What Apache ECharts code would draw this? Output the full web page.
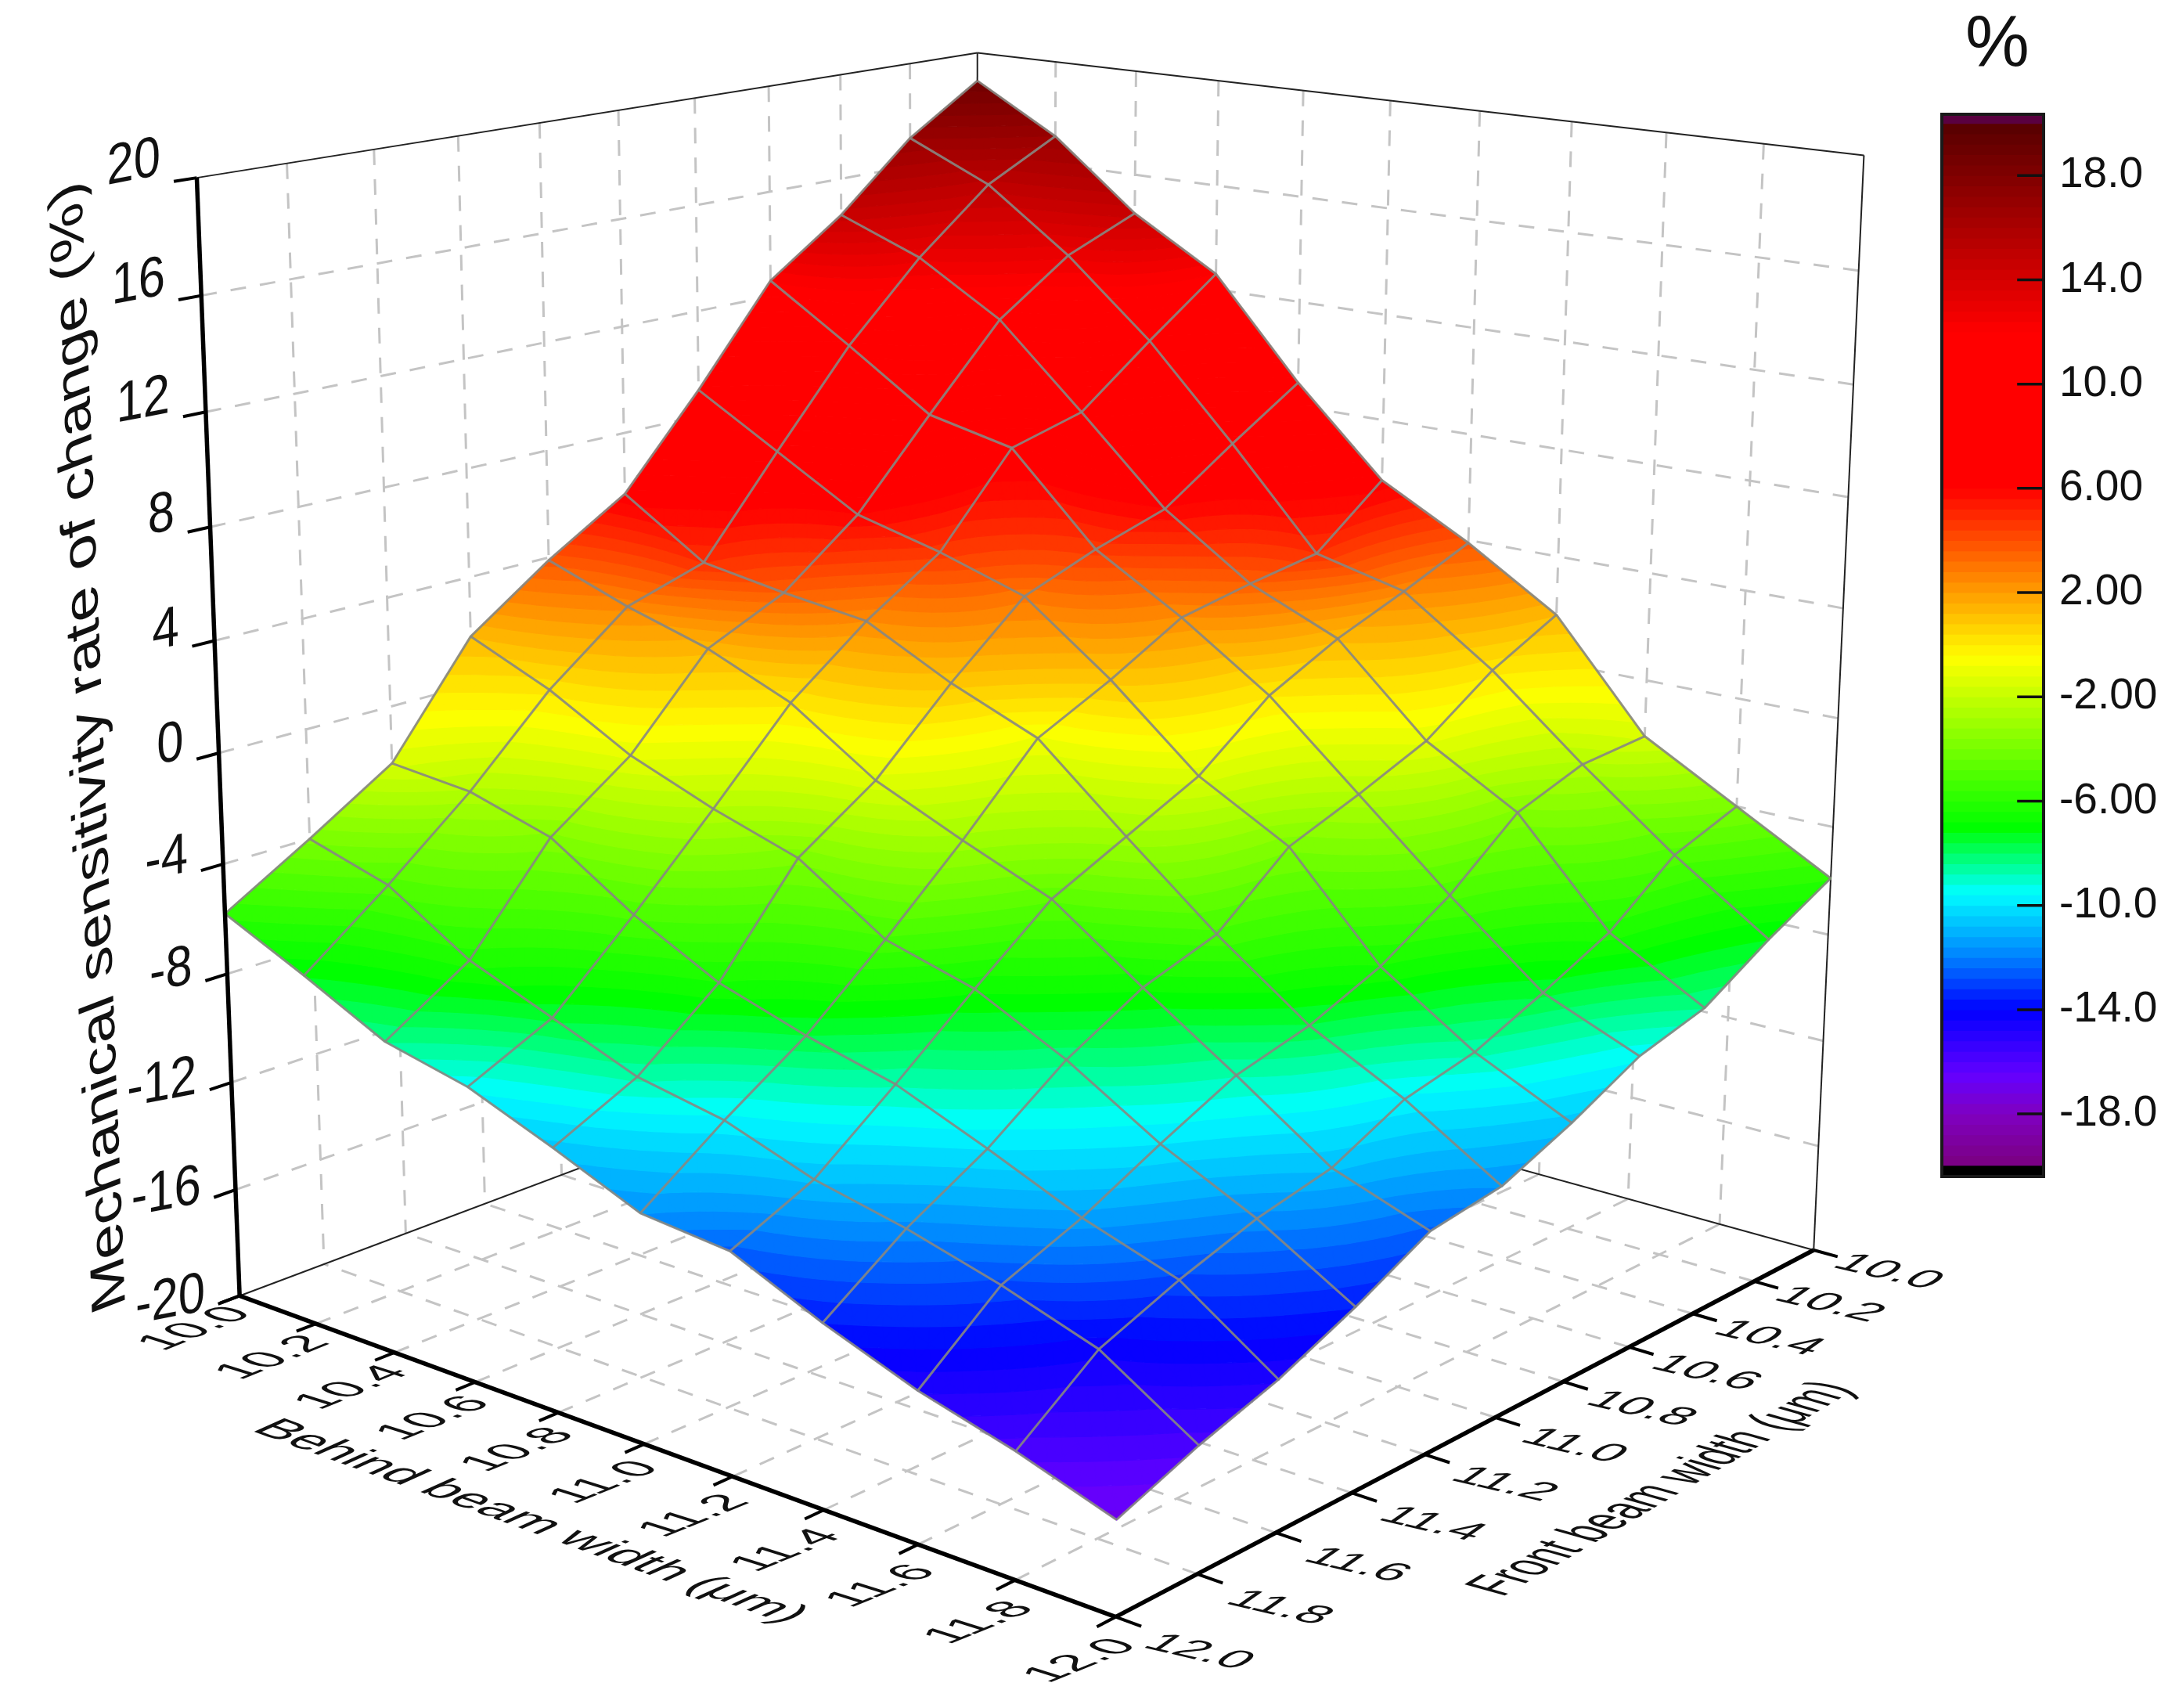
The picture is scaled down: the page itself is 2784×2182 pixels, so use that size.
<!DOCTYPE html>
<html><head><meta charset="utf-8">
<script src="https://cdn.jsdelivr.net/npm/echarts@6/dist/echarts.min.js"></script>
<style>html,body{margin:0;background:#fff}#c{width:2784px;height:2182px}</style></head>
<body><div id="c"></div>
<script>
// ---------- data ----------
const behindTicks = [10.0,10.2,10.4,10.6,10.8,11.0,11.2,11.4,11.6,11.8,12.0];
const frontTicks  = [10.0,10.2,10.4,10.6,10.8,11.0,11.2,11.4,11.6,11.8,12.0];
const zTicks      = [-20,-16,-12,-8,-4,0,4,8,12,16,20];
// rows: behind beam width, columns: front beam width
const rateB100 = [18.9,17.1,14.6,12.6,9.0,5.7,3.9,1.8,-2.1,-4.0,-5.8];
const rateB102 = [17.1,15.7,13.4,10.6,7.2,3.7,2.8,0.5,-2.4,-4.9,-7.2];
const rateB104 = [14.5,13.4,11.5,8.5,5.4,3.2,1.9,-1.2,-3.3,-6.8,-8.7];
const rateB106 = [12.6,10.6,8.5,7.8,4.6,2.8,0.6,-2.4,-5.3,-8.0,-9.4];
const rateB108 = [8.9,7.2,5.4,4.6,3.6,1.2,-1.5,-3.4,-6.9,-9.2,-10.6];
const rateB110 = [5.7,3.6,3.2,2.7,1.2,-0.1,-2.9,-5.5,-7.9,-9.8,-11.9];
const rateB112 = [3.9,2.8,1.8,0.5,-1.6,-2.9,-4.2,-6.4,-8.7,-10.9,-12.2];
const rateB114 = [1.8,0.5,-1.3,-2.4,-3.4,-5.6,-6.5,-8.0,-10.0,-11.6,-13.6];
const rateB116 = [-2.1,-2.3,-3.2,-5.3,-6.9,-8.0,-8.7,-10.0,-11.4,-12.5,-14.8];
const rateB118 = [-4.0,-4.9,-6.8,-8.0,-9.1,-9.7,-11.0,-11.6,-12.5,-13.6,-15.7];
const rateB120 = [-5.9,-7.2,-8.7,-9.4,-10.7,-11.8,-12.2,-13.6,-14.8,-15.7,-16.8];
const rate = [rateB100,rateB102,rateB104,rateB106,rateB108,rateB110,rateB112,rateB114,rateB116,rateB118,rateB120];
const legendTickValues = [18,14,10,6,2,-2,-6,-10,-14,-18];
const legendTickLabels = ['18.0','14.0','10.0','6.00','2.00','-2.00','-6.00','-10.0','-14.0','-18.0'];
const colorStops = [[-20,'#7a0080'],[-18,'#8000c0'],[-16.5,'#6400ff'],[-14,'#0000ff'],[-12,'#0080ff'],[-9.5,'#00ffff'],[-7,'#00ff00'],[-0.5,'#ffff00'],[6,'#ff0000'],[12,'#ff0000'],[20,'#560000']];
const bandStep = 0.4;

// ---------- camera: perspective view of the 3D box ----------
const cam = [787.450,-984.421,-59.203,1247.351, 100.487,119.799,-1237.617,1301.841, -0.121882,-0.141232,-0.048535];
const FONT = 'Liberation Sans';
function project(b,f,z){
  const u=(b-10)/2,v=(f-10)/2,w=(z+20)/40,d=cam[8]*u+cam[9]*v+cam[10]*w+1;
  return [(cam[0]*u+cam[1]*v+cam[2]*w+cam[3])/d,(cam[4]*u+cam[5]*v+cam[6]*w+cam[7])/d];
}
const px=(api,b,f,z)=>api.coord(project(b,f,z));

// ---------- colour ----------
function hex(c){return [1,3,5].map(k=>parseInt(c.substr(k,2),16));}
function colorAt(val){
  if(val<=colorStops[0][0])return colorStops[0][1];
  for(let k=1;k<colorStops.length;k++){
    if(val<=colorStops[k][0]){
      const t=(val-colorStops[k-1][0])/(colorStops[k][0]-colorStops[k-1][0]),a=hex(colorStops[k-1][1]),b=hex(colorStops[k][1]);
      return 'rgb('+a.map((x,n)=>Math.round(x+(b[n]-x)*t)).join(',')+')';
    }
  }
  return colorStops[colorStops.length-1][1];
}
const bandOf=v=>Math.floor((v+20)/bandStep);
const bandColor=k=>colorAt(-20+(k+.5)*bandStep);

// ---------- smoothed colour field derived from the readings ----------
const M=11;
function ext(i,j){
  const ci=Math.max(0,Math.min(M-1,i)),cj=Math.max(0,Math.min(M-1,j));
  const di=ci===0?rate[0][cj]-rate[1][cj]:ci===M-1?rate[M-1][cj]-rate[M-2][cj]:0;
  const dj=cj===0?rate[ci][0]-rate[ci][1]:cj===M-1?rate[ci][M-1]-rate[ci][M-2]:0;
  return rate[ci][cj]+Math.abs(i-ci)*di+Math.abs(j-cj)*dj;
}
const KW=[1,4,6,4,1];
const smooth={};
for(let i=-2;i<=M+1;i++)for(let j=-2;j<=M+1;j++){
  let s=0;for(let a=-2;a<=2;a++)for(let b=-2;b<=2;b++)s+=KW[a+2]*KW[b+2]*ext(i+a,j+b);
  smooth[i+','+j]=s/256;
}
function cr(p0,p1,p2,p3,t){return .5*(2*p1+(p2-p0)*t+(2*p0-5*p1+4*p2-p3)*t*t+(3*p1-p0-3*p2+p3)*t*t*t);}
function field(i,j,s,t){
  const r=[];for(let a=-1;a<=2;a++)r.push(cr(smooth[(i+a)+','+(j-1)],smooth[(i+a)+','+j],smooth[(i+a)+','+(j+1)],smooth[(i+a)+','+(j+2)],t));
  return cr(r[0],r[1],r[2],r[3],s);
}

// ---------- clip a triangle to one colour band ----------
function clipAbove(poly,lim,keepAbove){
  const out=[];
  for(let k=0;k<poly.length;k++){
    const a=poly[k],b=poly[(k+1)%poly.length];
    const ina=keepAbove?a[2]>=lim:a[2]<=lim,inb=keepAbove?b[2]>=lim:b[2]<=lim;
    if(ina)out.push(a);
    if(ina!==inb){const t=(lim-a[2])/(b[2]-a[2]);out.push([a[0]+(b[0]-a[0])*t,a[1]+(b[1]-a[1])*t,lim]);}
  }
  return out;
}
function addTri(paths,a,b,c){
  const mn=Math.min(a[2],b[2],c[2]),mx=Math.max(a[2],b[2],c[2]);
  for(let k=bandOf(mn);k<=bandOf(mx);k++){
    const lo=-20+k*bandStep,hi=lo+bandStep;
    let poly=clipAbove([a,b,c],lo,true);
    if(poly.length)poly=clipAbove(poly,hi,false);
    if(poly.length<3)continue;
    paths[k]=(paths[k]||'')+'M'+poly.map(q=>q[0].toFixed(1)+' '+q[1].toFixed(1)).join('L')+'Z';
  }
}
const SUB=6;
const cells=[];
for(let s=0;s<=18;s++)for(let i=0;i<M-1;i++){const j=s-i;if(j>=0&&j<M-1)cells.push([i,j]);}
function renderCell(params,api){
  const [i,j]=cells[params.dataIndex];
  const z00=rate[i][j],z10=rate[i+1][j],z01=rate[i][j+1],z11=rate[i+1][j+1];
  const g=[];
  for(let a=0;a<=SUB;a++){g.push([]);for(let b=0;b<=SUB;b++){
    const s=a/SUB,t=b/SUB;
    const z=z00*(1-s)*(1-t)+z10*s*(1-t)+z01*(1-s)*t+z11*s*t;
    const q=px(api,behindTicks[i]+.2*s,frontTicks[j]+.2*t,z);
    g[a].push([q[0],q[1],field(i,j,s,t)]);
  }}
  const paths={};
  for(let a=0;a<SUB;a++)for(let b=0;b<SUB;b++){
    addTri(paths,g[a][b],g[a+1][b],g[a+1][b+1]);
    addTri(paths,g[a][b],g[a+1][b+1],g[a][b+1]);
  }
  return {type:'group',children:Object.keys(paths).map(k=>({type:'path',shape:{pathData:paths[k]},style:{fill:bandColor(+k),stroke:bandColor(+k),lineWidth:1.2}}))};
}

// ---------- box, grids, ticks ----------
const B0=10,B1=12,F0=10,F1=12,Z0=-20,Z1=20;
const lineStyles={
  dash:{stroke:'#c4c4c4',lineWidth:3,lineDash:[20,18]},
  thin:{stroke:'#222222',lineWidth:2},
  thick:{stroke:'#000000',lineWidth:5.5},
  tick:{stroke:'#000000',lineWidth:4},
};
const gridSegs=[];
behindTicks.slice(1,-1).forEach(b=>{
  gridSegs.push(['dash',[b,F1,Z0],[b,F0,Z0]]);
  gridSegs.push(['dash',[b,F0,Z1],[b,F0,Z0]]);
});
frontTicks.slice(1,-1).forEach(f=>{
  gridSegs.push(['dash',[B1,f,Z0],[B0,f,Z0]]);
  gridSegs.push(['dash',[B0,f,Z1],[B0,f,Z0]]);
});
zTicks.slice(1,-1).forEach(z=>{
  gridSegs.push(['dash',[B0,F1,z],[B0,F0,z]]);
  gridSegs.push(['dash',[B1,F0,z],[B0,F0,z]]);
});
[[[B0,F1,Z1],[B0,F0,Z1]],[[B0,F0,Z1],[B1,F0,Z1]],[[B0,F0,Z1],[B0,F0,Z0]],[[B1,F0,Z1],[B1,F0,Z0]],[[B0,F1,Z0],[B0,F0,Z0]],[[B0,F0,Z0],[B1,F0,Z0]]]
  .forEach(s=>gridSegs.push(['thin',s[0],s[1]]));
const axisSegs=[['thick',[B0,F1,Z1],[B0,F1,Z0]],['thick',[B0,F1,Z0],[B1,F1,Z0]],['thick',[B1,F1,Z0],[B1,F0,Z0]]];
zTicks.forEach(z=>axisSegs.push(['tick',[B0,F1,z],[B0,F1+.05,z]]));
behindTicks.forEach(b=>axisSegs.push(['tick',[b,F1,Z0],[b,F1+.045,Z0]]));
frontTicks.forEach(f=>axisSegs.push(['tick',[B1,f,Z0],[B1+.05,f,Z0]]));
function renderSegs(list){return (params,api)=>{
  const s=list[params.dataIndex],a=px(api,...s[1]),b=px(api,...s[2]);
  return {type:'line',shape:{x1:a[0],y1:a[1],x2:b[0],y2:b[1]},style:lineStyles[s[0]]};
};}
const meshLines=[];
for(let i=0;i<M;i++)meshLines.push(rate[i].map((z,j)=>[behindTicks[i],frontTicks[j],z]));
for(let j=0;j<M;j++)meshLines.push(rate.map((row,i)=>[behindTicks[i],frontTicks[j],row[j]]));
function renderMesh(params,api){
  return {type:'polyline',shape:{points:meshLines[params.dataIndex].map(p=>px(api,...p))},style:{stroke:'rgba(135,135,130,0.9)',lineWidth:3,fill:null,lineJoin:'round'}};
}

// ---------- text laid in the planes of the box ----------
function warped(text,x,y,U,V,align,vAlign){
  const E=(U[0]+V[1])/2,F=(U[0]-V[1])/2,G=(U[1]+V[0])/2,H=(U[1]-V[0])/2;
  const Q=Math.hypot(E,H),R=Math.hypot(F,G),a1=Math.atan2(G,F),a2=Math.atan2(H,E);
  const theta=(a2-a1)/2,phi=(a2+a1)/2;
  return {type:'group',x,y,rotation:-phi,scaleX:Q+R,scaleY:Q-R,children:[
    {type:'text',rotation:-theta,style:{text,x:0,y:0,fill:'#111111',font:'56px "'+FONT+'"',align,verticalAlign:vAlign}}
  ]};
}
const behindU=[1.08,-.44],behindV=[1.05,.33];
const frontU=[1.15,.27],frontV=[-.72,.5];
const zU=[1.1,-.21],zV=[0,1.3];
const textItems=[];
behindTicks.forEach(b=>textItems.push(api=>{const t=(b-10)/2,q=px(api,b,F1,Z0);
  return warped(b.toFixed(1),q[0]-56+12*t,q[1]+42+14*t,behindU,behindV,'center','middle');}));
frontTicks.forEach(f=>textItems.push(api=>{const t=(f-10)/2,q=px(api,B1,f,Z0);
  return warped(f.toFixed(1),q[0]+95+11*t,q[1]+28+17*t,frontU,frontV,'center','middle');}));
zTicks.forEach(z=>textItems.push(api=>{const w=(z+20)/40,q=px(api,B0,F1+.06,z);
  return warped(String(z),q[0]-11,q[1]-30+16*(1-w),zU,zV,'right','middle');}));
const axisTitles=[
  ['Mechanical sensitivity rate of change (%)',[115,954],[-.055,-1.414],[1.09,-.42]],
  ['Behind beam width (μm)',[677,1944],[1.125,.407],[-1,.45]],
  ['Front beam width (μm)',[2124,1902],[.8,-.47],[1.34,.375]],
];
axisTitles.forEach(t=>textItems.push(api=>{const q=api.coord(t[1]);return warped(t[0],q[0],q[1],t[2],t[3],'center','middle');}));

// ---------- colour bar ----------
const barBands=[];
for(let k=0;k<100;k++)barBands.push([-20+k*bandStep,-20+(k+1)*bandStep,bandColor(k)]);
barBands.push([20,20.35,'#5a0040'],[-20.4,-20,'#000000']);
function renderBar(params,api){
  const s=barBands[params.dataIndex],a=api.coord([0,s[1]]),b=api.coord([1,s[0]]);
  return {type:'rect',shape:{x:a[0],y:a[1]-.5,width:b[0]-a[0],height:b[1]-a[1]+1},style:{fill:s[2]}};
}
function renderFrame(params,api){
  const a=api.coord([0,20.35]),b=api.coord([1,-20.4]);
  return {type:'rect',shape:{x:a[0],y:a[1],width:b[0]-a[0],height:b[1]-a[1]},style:{fill:null,stroke:'#1a1a1a',lineWidth:4}};
}
function renderBarTick(params,api){
  const v=legendTickValues[params.dataIndex],a=api.coord([.74,v]),b=api.coord([1,v]);
  return {type:'line',shape:{x1:a[0],y1:a[1],x2:b[0],y2:b[1]},style:{stroke:'#111111',lineWidth:3.5}};
}
const idx=list=>list.map((_,i)=>[i,0]);
const base={type:'custom',coordinateSystem:'cartesian2d',xAxisIndex:0,yAxisIndex:0,clip:false,silent:true,animation:false};
const chart=echarts.init(document.getElementById('c'),null,{renderer:'canvas'});
chart.setOption({
  animation:false,backgroundColor:'#ffffff',
  title:{text:'%',left:2547,top:8,textAlign:'center',textStyle:{fontFamily:FONT,fontSize:92,fontWeight:'normal',color:'#111111'}},
  grid:[{left:0,top:0,width:2784,height:2182},{left:2481,top:146,width:130,height:1357}],
  xAxis:[{type:'value',min:0,max:2784,show:false,gridIndex:0},{type:'value',min:0,max:1,show:false,gridIndex:1}],
  yAxis:[{type:'value',min:0,max:2182,inverse:true,show:false,gridIndex:0},
    {type:'value',min:-20.4,max:20.35,gridIndex:1,position:'right',z:6,splitLine:{show:false},
     axisLine:{show:false},axisTick:{show:false},
     axisLabel:{show:true,margin:20,padding:[10,0,0,0],color:'#111111',fontFamily:FONT,fontSize:55,customValues:legendTickValues,
       formatter:v=>legendTickLabels[legendTickValues.indexOf(v)]}}],
  series:[
    {...base,z:1,data:idx(gridSegs),renderItem:renderSegs(gridSegs)},
    {...base,z:2,data:idx(cells),renderItem:renderCell},
    {...base,z:3,data:idx(meshLines),renderItem:renderMesh},
    {...base,z:4,data:idx(axisSegs),renderItem:renderSegs(axisSegs)},
    {...base,z:5,data:idx(textItems),renderItem:(p,api)=>textItems[p.dataIndex](api)},
    {...base,z:2,xAxisIndex:1,yAxisIndex:1,data:idx(barBands),renderItem:renderBar},
    {...base,z:7,xAxisIndex:1,yAxisIndex:1,data:[[0,0]],renderItem:renderFrame},
    {...base,z:8,xAxisIndex:1,yAxisIndex:1,data:idx(legendTickValues),renderItem:renderBarTick},
  ]
});
</script></body></html>
